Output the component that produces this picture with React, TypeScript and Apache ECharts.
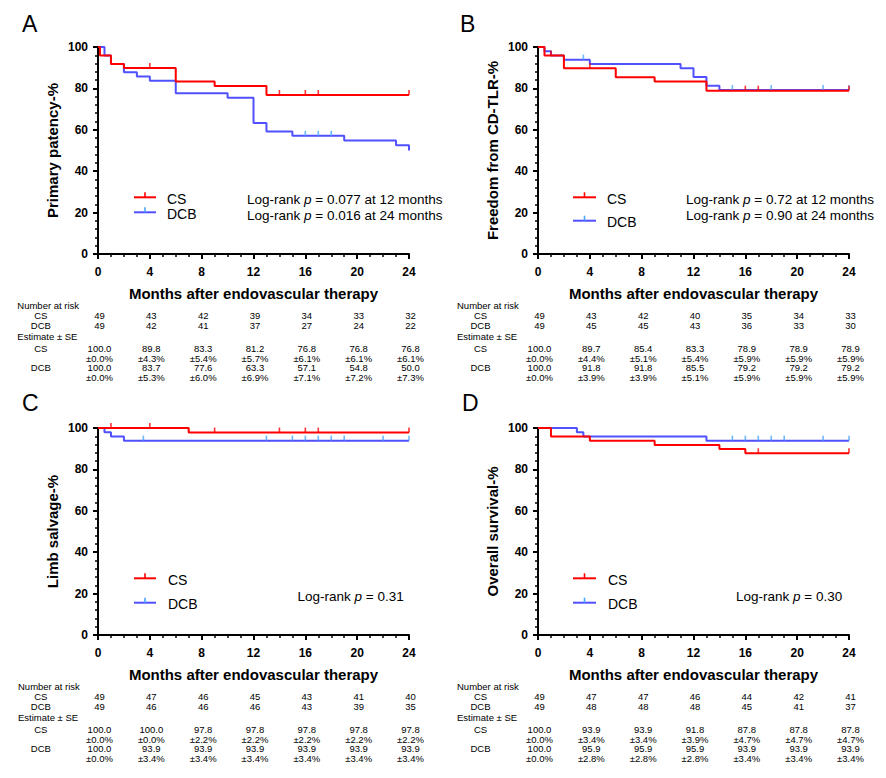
import React, { useEffect, useRef } from "react";
import * as echarts from "echarts";

const FONT = '"Liberation Sans", Arial, Helvetica, sans-serif';
const RED = "#ff0000";
const BLUE = "#5050ff";
const BLUE_TICK = "#4aa6ff";

const tableMonths = [0, 4, 8, 12, 16, 20, 24];
const panelLetters = ["A", "B", "C", "D"];
const yTitles = ["Primary patency-%", "Freedom from CD-TLR-%", "Limb salvage-%", "Overall survival-%"];
const xTitle = "Months after endovascular therapy";
const groupNames = ["CS", "DCB"];

// Panel A – primary patency
const aCsTimes = [0, 0.15, 1, 2, 6, 9, 13, 24];
const aCsSurv = [100, 95.9, 91.8, 89.8, 83.3, 81.2, 76.8, 76.8];
const aCsCensor = [4, 14, 16, 17, 24];
const aDcbTimes = [0, 0.5, 1, 2, 3, 4, 6, 10, 12, 13, 15, 19, 23, 24];
const aDcbSurv = [100, 95.9, 91.8, 87.8, 85.7, 83.7, 77.6, 75.5, 63.3, 59.2, 57.1, 54.8, 52.5, 50.0];
const aDcbCensor = [16, 17, 18];

// Panel B – freedom from CD-TLR
const bCsTimes = [0, 0.5, 2, 6, 9, 13, 24];
const bCsSurv = [100, 95.9, 89.7, 85.4, 83.3, 78.9, 78.9];
const bCsCensor = [1, 4, 16, 17, 24];
const bDcbTimes = [0, 0.5, 1, 2, 4, 11, 12, 13, 14, 24];
const bDcbSurv = [100, 98.0, 95.9, 93.9, 91.8, 89.7, 85.5, 81.3, 79.2, 79.2];
const bDcbCensor = [3.5, 15, 18, 22, 24];

// Panel C – limb salvage
const cCsTimes = [0, 7, 24];
const cCsSurv = [100, 97.8, 97.8];
const cCsCensor = [1, 4, 9, 14, 16, 17, 24];
const cDcbTimes = [0, 0.5, 1, 2, 24];
const cDcbSurv = [100, 98.0, 95.9, 93.9, 93.9];
const cDcbCensor = [3.5, 13, 15, 16, 17, 18, 19, 22, 24];

// Panel D – overall survival
const dCsTimes = [0, 1, 4, 9, 14, 16, 24];
const dCsSurv = [100, 95.9, 93.9, 91.8, 89.8, 87.8, 87.8];
const dCsCensor = [17, 24];
const dDcbTimes = [0, 3, 3.5, 13, 24];
const dDcbSurv = [100, 98.0, 95.9, 93.9, 93.9];
const dDcbCensor = [15, 16, 17, 18, 19, 22, 24];

// Log-rank annotations
const aLogRank = ["0.077 at 12 months", "0.016 at 24 months"];
const bLogRank = ["0.72 at 12 months", "0.90 at 24 months"];
const cLogRank = ["0.31"];
const dLogRank = ["0.30"];

// Number at risk
const aRiskCs = [49, 43, 42, 39, 34, 33, 32];
const aRiskDcb = [49, 42, 41, 37, 27, 24, 22];
const bRiskCs = [49, 43, 42, 40, 35, 34, 33];
const bRiskDcb = [49, 45, 45, 43, 36, 33, 30];
const cRiskCs = [49, 47, 46, 45, 43, 41, 40];
const cRiskDcb = [49, 46, 46, 46, 43, 39, 35];
const dRiskCs = [49, 47, 47, 46, 44, 42, 41];
const dRiskDcb = [49, 48, 48, 48, 45, 41, 37];

// Estimate ± SE
const aEstCs = ["100.0", "89.8", "83.3", "81.2", "76.8", "76.8", "76.8"];
const aSeCs = ["0.0", "4.3", "5.4", "5.7", "6.1", "6.1", "6.1"];
const aEstDcb = ["100.0", "83.7", "77.6", "63.3", "57.1", "54.8", "50.0"];
const aSeDcb = ["0.0", "5.3", "6.0", "6.9", "7.1", "7.2", "7.3"];
const bEstCs = ["100.0", "89.7", "85.4", "83.3", "78.9", "78.9", "78.9"];
const bSeCs = ["0.0", "4.4", "5.1", "5.4", "5.9", "5.9", "5.9"];
const bEstDcb = ["100.0", "91.8", "91.8", "85.5", "79.2", "79.2", "79.2"];
const bSeDcb = ["0.0", "3.9", "3.9", "5.1", "5.9", "5.9", "5.9"];
const cEstCs = ["100.0", "100.0", "97.8", "97.8", "97.8", "97.8", "97.8"];
const cSeCs = ["0.0", "0.0", "2.2", "2.2", "2.2", "2.2", "2.2"];
const cEstDcb = ["100.0", "93.9", "93.9", "93.9", "93.9", "93.9", "93.9"];
const cSeDcb = ["0.0", "3.4", "3.4", "3.4", "3.4", "3.4", "3.4"];
const dEstCs = ["100.0", "93.9", "93.9", "91.8", "87.8", "87.8", "87.8"];
const dSeCs = ["0.0", "3.4", "3.4", "3.9", "4.7", "4.7", "4.7"];
const dEstDcb = ["100.0", "95.9", "95.9", "95.9", "93.9", "93.9", "93.9"];
const dSeDcb = ["0.0", "2.8", "2.8", "2.8", "3.4", "3.4", "3.4"];

const panels = [
  {
    cs: [aCsTimes, aCsSurv, aCsCensor], dcb: [aDcbTimes, aDcbSurv, aDcbCensor], logRank: aLogRank,
    risk: [aRiskCs, aRiskDcb], est: [aEstCs, aSeCs, aEstDcb, aSeDcb],
  },
  {
    cs: [bCsTimes, bCsSurv, bCsCensor], dcb: [bDcbTimes, bDcbSurv, bDcbCensor], logRank: bLogRank,
    risk: [bRiskCs, bRiskDcb], est: [bEstCs, bSeCs, bEstDcb, bSeDcb],
  },
  {
    cs: [cCsTimes, cCsSurv, cCsCensor], dcb: [cDcbTimes, cDcbSurv, cDcbCensor], logRank: cLogRank,
    risk: [cRiskCs, cRiskDcb], est: [cEstCs, cSeCs, cEstDcb, cSeDcb],
  },
  {
    cs: [dCsTimes, dCsSurv, dCsCensor], dcb: [dDcbTimes, dDcbSurv, dDcbCensor], logRank: dLogRank,
    risk: [dRiskCs, dRiskDcb], est: [dEstCs, dSeCs, dEstDcb, dSeDcb],
  },
];

// layout (pixels)
const gridBoxes = [
  { left: 98, top: 47 },
  { left: 538, top: 47 },
  { left: 98, top: 428 },
  { left: 538, top: 428 },
];
const GRID_W = 311;
const GRID_H = 207;
const letterPos = [
  { x: 22, y: 24 },
  { x: 460, y: 24 },
  { x: 22, y: 403 },
  { x: 462, y: 403 },
];
const legendPos = [
  { x1: 134, x2: 156, tx: 167, y1: 197.3, y2: 212.3 },
  { x1: 573, x2: 596, tx: 607, y1: 197.3, y2: 220.7 },
  { x1: 134, x2: 156, tx: 168, y1: 578.3, y2: 602.7 },
  { x1: 573, x2: 596, tx: 608, y1: 578.3, y2: 602.7 },
];
const logRankPos = [
  { x: 247, y: 199, dy: 16 },
  { x: 686, y: 199, dy: 16 },
  { x: 297.5, y: 596, dy: 16 },
  { x: 736, y: 596, dy: 16 },
];
const tableLeft = [17.3, 457, 18, 457];
const tableLabelCenter = [40.8, 480.5, 40.8, 480.5];
const rowOffsets = [51.3, 61.6, 71.6, 82, 94.5, 104.2, 113.9, 123.6];
const TABLE_FONT = 9.5;

function stepAt(times: number[], surv: number[], t: number) {
  let v = surv[0];
  for (let i = 0; i < times.length; i++) {
    if (times[i] <= t) v = surv[i];
  }
  return v;
}

export default function App() {
  const ref = useRef<HTMLDivElement>(null);

  useEffect(() => {
    if (!ref.current) return;
    const chart = echarts.init(ref.current, undefined, { renderer: "svg" });

    const grids: any[] = [];
    const xAxes: any[] = [];
    const yAxes: any[] = [];
    const series: any[] = [];

    panels.forEach((p, i) => {
      grids.push({ left: gridBoxes[i].left, top: gridBoxes[i].top, width: GRID_W, height: GRID_H, containLabel: false });
      xAxes.push({
        type: "value",
        gridIndex: i,
        min: 0,
        max: 24,
        interval: 4,
        name: xTitle,
        nameLocation: "middle",
        nameGap: 32,
        nameTextStyle: { fontFamily: FONT, fontWeight: "bold", fontSize: 15, color: "#000" },
        axisLine: { show: true, onZero: false, lineStyle: { color: "#000", width: 2 } },
        axisTick: { show: true, length: 5, lineStyle: { color: "#000", width: 2 } },
        minorTick: { show: true, splitNumber: 4, length: 3, lineStyle: { color: "#000", width: 1.5 } },
        splitLine: { show: false },
        minorSplitLine: { show: false },
        axisLabel: { fontFamily: FONT, fontWeight: "bold", fontSize: 12, color: "#000", margin: 12 },
      });
      yAxes.push({
        type: "value",
        gridIndex: i,
        min: 0,
        max: 100,
        interval: 20,
        name: yTitles[i],
        nameLocation: "middle",
        nameGap: 38,
        nameRotate: 90,
        nameTextStyle: { fontFamily: FONT, fontWeight: "bold", fontSize: 15, color: "#000" },
        axisLine: { show: true, onZero: false, lineStyle: { color: "#000", width: 2 } },
        axisTick: { show: true, length: 5, lineStyle: { color: "#000", width: 2 } },
        minorTick: { show: true, splitNumber: 5, length: 3, lineStyle: { color: "#000", width: 1.5 } },
        splitLine: { show: false },
        minorSplitLine: { show: false },
        axisLabel: { fontFamily: FONT, fontWeight: "bold", fontSize: 12, color: "#000", margin: 10 },
      });

      const groups = [
        { name: groupNames[1], d: p.dcb, color: BLUE, tick: BLUE_TICK, z: 2 },
        { name: groupNames[0], d: p.cs, color: RED, tick: RED, z: 4 },
      ];
      groups.forEach((g) => {
        const [times, surv, censor] = g.d as number[][];
        series.push({
          type: "line",
          name: g.name,
          xAxisIndex: i,
          yAxisIndex: i,
          step: "end",
          symbol: "none",
          silent: true,
          z: g.z,
          lineStyle: { color: g.color, width: 2 },
          itemStyle: { color: g.color },
          data: times.map((t, k) => [t, surv[k]]),
        });
        series.push({
          type: "scatter",
          name: g.name,
          xAxisIndex: i,
          yAxisIndex: i,
          symbol: "rect",
          symbolSize: [1.6, 5],
          symbolOffset: [0, -2.5],
          silent: true,
          z: g.z + 1,
          itemStyle: { color: g.tick },
          data: censor.map((t) => [t, stepAt(times, surv, t)]),
        });
      });
    });

    chart.setOption({
      animation: false,
      backgroundColor: "#fff",
      grid: grids,
      xAxis: xAxes,
      yAxis: yAxes,
      series,
    });

    const graphic: any[] = [];
    const txt = (x: number, y: number, text: string, opts: any = {}) => ({
      type: "text",
      x,
      y,
      silent: true,
      style: {
        text,
        fill: "#000",
        fontFamily: FONT,
        fontSize: TABLE_FONT,
        lineHeight: 9.5,
        align: "left",
        verticalAlign: "middle",
        ...opts,
      },
    });

    panels.forEach((p, i) => {
      // panel letter
      graphic.push(txt(letterPos[i].x, letterPos[i].y, panelLetters[i], { fontSize: 23, lineHeight: 23 }));

      // legend
      const lp = legendPos[i];
      const mid = (lp.x1 + lp.x2) / 2;
      [
        { y: lp.y1, color: RED, tick: RED, name: groupNames[0] },
        { y: lp.y2, color: BLUE, tick: BLUE_TICK, name: groupNames[1] },
      ].forEach((it) => {
        graphic.push({ type: "line", silent: true, z: 10, shape: { x1: lp.x1, y1: it.y, x2: lp.x2, y2: it.y }, style: { stroke: it.color, lineWidth: 2 } });
        graphic.push({ type: "line", silent: true, z: 11, shape: { x1: mid, y1: it.y - 5, x2: mid, y2: it.y }, style: { stroke: it.tick, lineWidth: 1.6 } });
        graphic.push(txt(lp.tx, it.y + 1.5, it.name, { fontSize: 14, lineHeight: 14 }));
      });

      // log-rank
      const lr = logRankPos[i];
      p.logRank.forEach((s, k) => {
        graphic.push({
          type: "text",
          x: lr.x,
          y: lr.y + k * lr.dy,
          silent: true,
          style: {
            text: "{n|Log-rank }{i|p}{n| = " + s + "}",
            verticalAlign: "middle",
            align: "left",
            rich: {
              n: { fontFamily: FONT, fontSize: 13.5, fill: "#000", color: "#000" },
              i: { fontFamily: FONT, fontSize: 13.5, fontStyle: "italic", fill: "#000", color: "#000" },
            },
          },
        });
      });

      // table
      const axisY = chart.convertToPixel({ gridIndex: i } as any, [0, 0]) as number[];
      const y0 = axisY[1];
      const L = tableLeft[i];
      const C = tableLabelCenter[i];
      graphic.push(txt(L, y0 + rowOffsets[0], "Number at risk"));
      graphic.push(txt(C, y0 + rowOffsets[1], groupNames[0], { align: "center" }));
      graphic.push(txt(C, y0 + rowOffsets[2], groupNames[1], { align: "center" }));
      graphic.push(txt(L, y0 + rowOffsets[3], "Estimate ± SE"));
      graphic.push(txt(C, y0 + rowOffsets[4], groupNames[0], { align: "center" }));
      graphic.push(txt(C, y0 + rowOffsets[6], groupNames[1], { align: "center" }));
      tableMonths.forEach((m, k) => {
        const pt = chart.convertToPixel({ gridIndex: i } as any, [m, 0]) as number[];
        const cx = pt[0] + 1.5;
        graphic.push(txt(cx, y0 + rowOffsets[1], String(p.risk[0][k]), { align: "center" }));
        graphic.push(txt(cx, y0 + rowOffsets[2], String(p.risk[1][k]), { align: "center" }));
        graphic.push(txt(cx, y0 + rowOffsets[4], p.est[0][k], { align: "center" }));
        graphic.push(txt(cx, y0 + rowOffsets[5], "±" + p.est[1][k] + "%", { align: "center" }));
        graphic.push(txt(cx, y0 + rowOffsets[6], p.est[2][k], { align: "center" }));
        graphic.push(txt(cx, y0 + rowOffsets[7], "±" + p.est[3][k] + "%", { align: "center" }));
      });
    });

    chart.setOption({ graphic });

    return () => {
      chart.dispose();
    };
  }, []);

  return (
    <div
      ref={ref}
      style={{ position: "absolute", left: 0, top: 0, width: 886, height: 778, background: "#fff" }}
    />
  );
}
